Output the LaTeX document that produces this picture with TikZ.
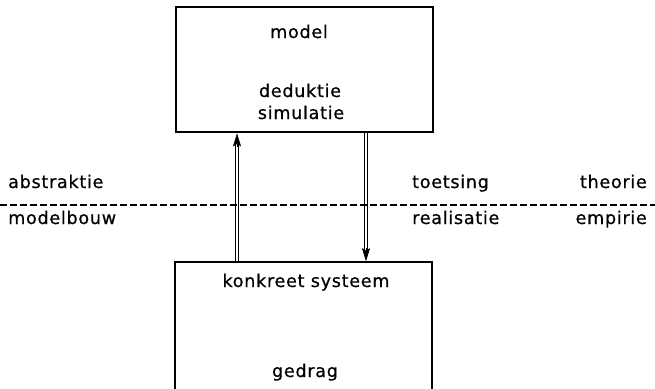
\documentclass[tikz,border=0pt]{standalone}
\usepackage{fontspec}
\setmainfont{DejaVu Sans}[LetterSpace=4, FakeBold=0.6]
\usetikzlibrary{arrows.meta}
\begin{document}
\begin{tikzpicture}[x=1pt,y=-1pt,
  lbl/.style={font=\fontsize{17.6}{20}\selectfont, inner sep=0pt, anchor=base},
  frame/.style={line width=1.6pt},
  shaft/.style={line width=0.7pt},
  head/.style={line width=0.6pt, -{Stealth[length=13pt,width=8pt,inset=2.5pt]}},
  sep/.style={line width=1.2pt, dash pattern=on 7pt off 3pt}]
  \useasboundingbox (0,0) rectangle (655,388);

  % upper box: the model
  \node[frame, draw, minimum width=257pt, minimum height=125pt, anchor=north west,
        inner sep=0pt] (modelbox) at (175,6) {};
  \node[lbl] (model) at (299,38) {model};
  \node[lbl] (deduk) at (300,97) {deduktie};
  \node[lbl] (simul) at (301,119) {simulatie};

  % lower box: the concrete system, open at the foot
  \coordinate (sysTL) at (175,262);
  \coordinate (sysTR) at (432,262);
  \draw[frame] (175,392) -- (sysTL) -- (sysTR) -- (432,392);
  \node[lbl] (konk) at (306,287) {konkreet systeem};
  \node[lbl] (gedrag) at (305,377) {gedrag};

  % boundary between theory and empiry
  \coordinate (sepL) at (0,205);
  \coordinate (sepR) at (655,205);
  \draw[sep] (sepL) -- (sepR);

  \node[lbl, anchor=base west] (abstr) at (8,188) {abstraktie};
  \node[lbl, anchor=base west] (mbouw) at (8,224) {modelbouw};
  \node[lbl, anchor=base west] (toets) at (412,188) {toetsing};
  \node[lbl, anchor=base west] (reali) at (412,224) {realisatie};
  \node[lbl, anchor=base east] (theor) at (647,188) {theorie};
  \node[lbl, anchor=base east] (empir) at (647,224) {empirie};

  % the two flows between the levels: a double shaft with a solid head
  \coordinate (upA) at (237,262);
  \coordinate (upB) at (upA |- modelbox.south);
  \coordinate (dnA) at (366,131);
  \coordinate (dnB) at (dnA |- sysTL);
  \draw[shaft] ([xshift=-1.3pt]upA) -- ([xshift=-1.3pt,yshift=-10pt]upB);
  \draw[shaft] ([xshift=1.3pt]upA) -- ([xshift=1.3pt,yshift=-10pt]upB);
  \draw[head] ([yshift=-14pt]upB) -- ([yshift=-0.8pt]upB);
  \draw[shaft] ([xshift=-1.3pt]dnA) -- ([xshift=-1.3pt,yshift=10pt]dnB);
  \draw[shaft] ([xshift=1.3pt]dnA) -- ([xshift=1.3pt,yshift=10pt]dnB);
  \draw[head] ([yshift=14pt]dnB) -- ([yshift=0.8pt]dnB);
\end{tikzpicture}
\end{document}
